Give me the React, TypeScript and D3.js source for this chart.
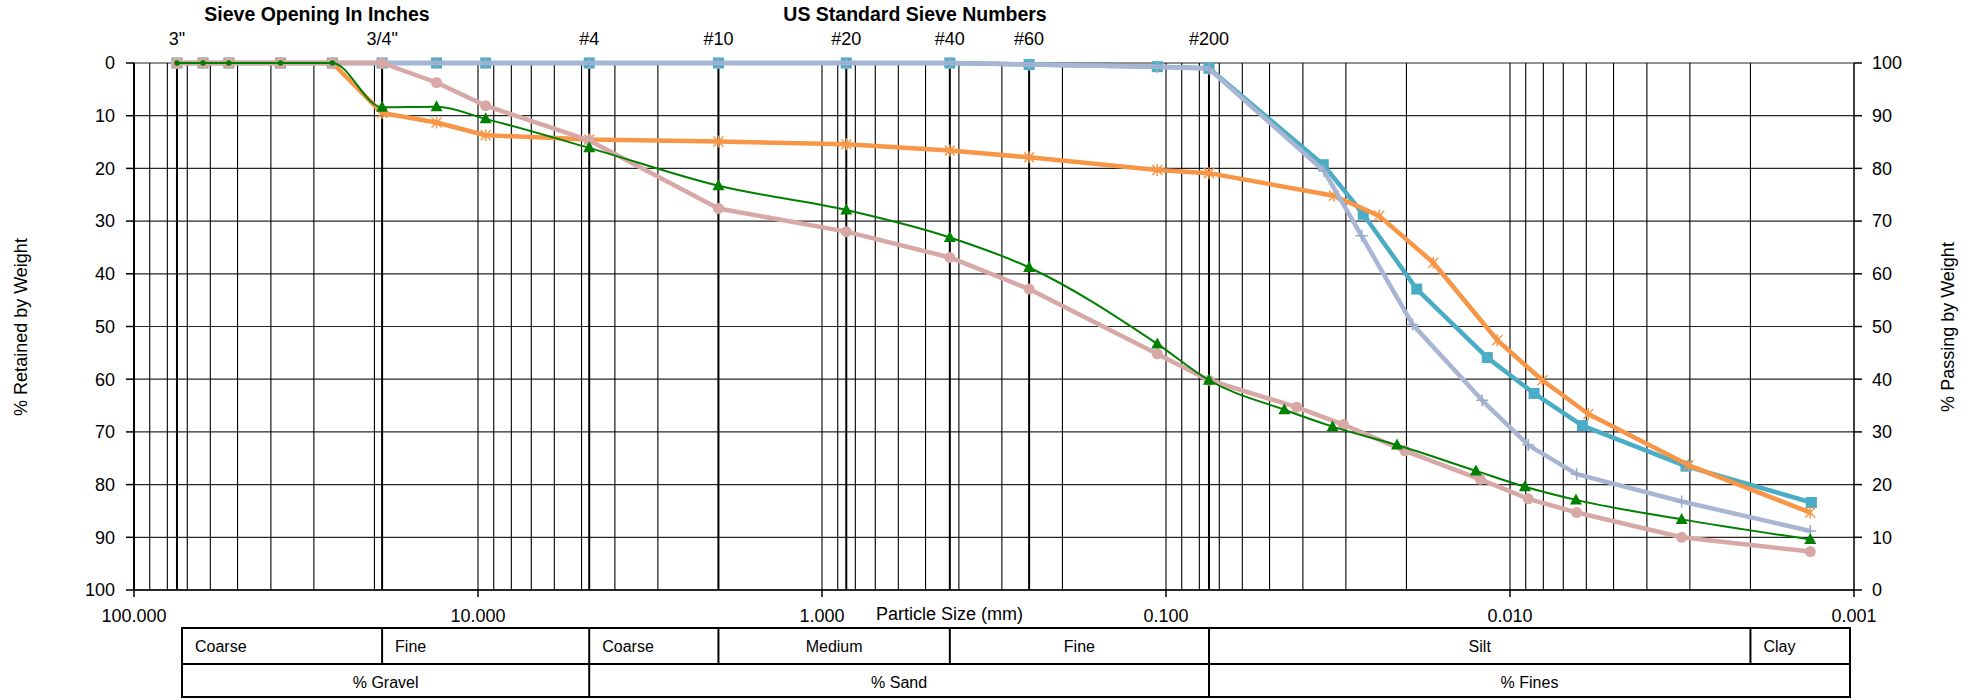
import React from "react";
import * as d3 from "d3";

const sieveSizes = [75, 63, 53, 37.5, 26.5, 19, 13.2, 9.5, 4.75, 2.0, 0.85, 0.425, 0.25, 0.106, 0.075];

const pinkSieve = [0, 0, 0, 0, 0, 0, 3.7, 8.1, 14.7, 27.6, 32.0, 36.9, 42.9, 55.2, 60.2];
const pinkHydroSizes = [0.0417, 0.0305, 0.0202, 0.0122, 0.00885, 0.0064, 0.00317, 0.00134];
const pinkHydro = [65.3, 68.6, 73.6, 79.0, 82.7, 85.3, 90.0, 92.7];

const greenSieve = [0, 0, 0, 0, 0, 8.4, 8.3, 10.6, 16.1, 23.3, 27.9, 33.1, 38.8, 53.3, 60.2];
const greenHydroSizes = [0.0453, 0.0328, 0.0213, 0.01256, 0.00905, 0.00643, 0.00317, 0.00134];
const greenHydro = [65.8, 69.0, 72.5, 77.4, 80.4, 82.9, 86.6, 90.4];

const orangeSieve = [0, 0, 0, 0, 0, 9.5, 11.3, 13.7, 14.5, 14.9, 15.4, 16.6, 17.9, 20.3, 20.9];
const orangeHydroSizes = [0.0325, 0.024, 0.0167, 0.01089, 0.00805, 0.00592, 0.00303, 0.00134];
const orangeHydro = [25.2, 29.0, 37.9, 52.6, 60.2, 66.6, 76.3, 85.3];

const tealSieve = [0, 0, 0, 0, 0, 0, 0, 0, 0, 0, 0, 0, 0.3, 0.7, 1.0];
const tealHydroSizes = [0.0349, 0.0267, 0.01867, 0.01164, 0.00851, 0.00616, 0.00308, 0.00133];
const tealHydro = [19.3, 28.7, 42.9, 55.9, 62.7, 68.8, 76.5, 83.4];

const lavSieve = [0, 0, 0, 0, 0, 0, 0, 0, 0, 0, 0, 0, 0.3, 0.7, 1.1];
const lavHydroSizes = [0.0347, 0.027, 0.0192, 0.01205, 0.00885, 0.0064, 0.00317, 0.00134];
const lavHydro = [20.5, 32.8, 49.6, 64.0, 72.5, 78.0, 83.2, 88.8];

const sieveLineSizes = [75, 19, 4.75, 2.0, 0.85, 0.425, 0.25, 0.075];
const sieveLineLabels = ['3"', '3/4"', "#4", "#10", "#20", "#40", "#60", "#200"];
const xTickValues = [100, 10, 1, 0.1, 0.01, 0.001];
const yTickValues = [0, 10, 20, 30, 40, 50, 60, 70, 80, 90, 100];

const row1Bounds = [null, 19, 4.75, 2.0, 0.425, 0.075, 0.002, null];
const row1Labels = ["Coarse", "Fine", "Coarse", "Medium", "Fine", "Silt", "Clay"];
const row1Align = ["start", "start", "start", "middle", "middle", "middle", "start"];
const row2Bounds = [null, 4.75, 0.075, null];
const row2Labels = ["% Gravel", "% Sand", "% Fines"];

const FONT = "'Liberation Sans', Arial, sans-serif";

type Pt = { d: number; v: number };

function build(sieve: number[], hs: number[], hv: number[]): Pt[] {
  const a = sieveSizes.map((d, i) => ({ d, v: sieve[i] }));
  const b = hs.map((d, i) => ({ d, v: hv[i] }));
  return a.concat(b);
}

export default function App() {
  const W = 1974;
  const H = 699;
  const x = d3.scaleLog().domain([100, 0.001]).range([134, 1854]);
  const y = d3.scaleLinear().domain([0, 100]).range([63, 590]);
  const yR = d3.scaleLinear().domain([100, 0]).range([63, 590]);
  const tableL = 182;
  const tableR = 1850;
  const tTop = 628;
  const tMid = 664;
  const tBot = 697;

  const minor: number[] = [];
  for (let k = -3; k <= 1; k++) {
    for (let m = 1; m <= 9; m++) {
      const v = m * Math.pow(10, k);
      if (v > 0.001 && v < 100) minor.push(v);
    }
  }

  const series = [
    { name: "teal", color: "#4BACC6", width: 4.5, marker: "square", pts: build(tealSieve, tealHydroSizes, tealHydro), smooth: false },
    { name: "orange", color: "#F79646", width: 4.5, marker: "star", pts: build(orangeSieve, orangeHydroSizes, orangeHydro), smooth: false },
    { name: "lav", color: "#A8B6D4", width: 4.5, marker: "plus", pts: build(lavSieve, lavHydroSizes, lavHydro), smooth: false },
    { name: "pink", color: "#D8A8A6", width: 4.5, marker: "circle", pts: build(pinkSieve, pinkHydroSizes, pinkHydro), smooth: false },
    { name: "green", color: "#008000", width: 2, marker: "triangle", pts: build(greenSieve, greenHydroSizes, greenHydro), smooth: true },
  ];

  const lineGen = (smooth: boolean) =>
    d3
      .line<Pt>()
      .x((p) => x(p.d))
      .y((p) => y(p.v))
      .curve(smooth ? d3.curveMonotoneX : d3.curveLinear);

  const marker = (s: any, p: Pt, i: number) => {
    const cx = x(p.d);
    const cy = y(p.v);
    const c = s.color;
    switch (s.marker) {
      case "square":
        return <rect key={i} x={cx - 5.5} y={cy - 5.5} width={11} height={11} fill={c} />;
      case "circle":
        return <circle key={i} cx={cx} cy={cy} r={5.5} fill={c} />;
      case "triangle":
        if (p.v === 0) return <circle key={i} cx={cx} cy={cy} r={2.8} fill={c} />;
        return <path key={i} d={`M${cx},${cy - 6.5}L${cx + 6},${cy + 4.5}L${cx - 6},${cy + 4.5}Z`} fill={c} />;
      case "star":
        return (
          <path
            key={i}
            d={`M${cx - 5},${cy - 5}L${cx + 5},${cy + 5}M${cx - 5},${cy + 5}L${cx + 5},${cy - 5}M${cx},${cy - 6}L${cx},${cy + 6}`}
            stroke={c}
            strokeWidth={1.5}
            fill="none"
          />
        );
      case "plus":
        return (
          <path
            key={i}
            d={`M${cx - 6},${cy}L${cx + 6},${cy}M${cx},${cy - 6}L${cx},${cy + 6}`}
            stroke="#9AAACC"
            strokeWidth={1.5}
            fill="none"
          />
        );
    }
    return null;
  };

  const cellText = (l: number, r: number, label: string, align: string, yy: number, key: string) => {
    const tx = align === "start" ? l + 13 : (l + r) / 2;
    return (
      <text key={key} x={tx} y={yy} textAnchor={align} fontSize={16} fontFamily={FONT} fill="#000">
        {label}
      </text>
    );
  };

  const boundX = (b: number | null, i: number) => (b === null ? (i === 0 ? tableL : tableR) : x(b));

  return (
    <svg
      width={W}
      height={H}
      style={{ position: "absolute", left: 0, top: 0, background: "#fff" }}
      fontFamily={FONT}
    >
      <rect x={0} y={0} width={W} height={H} fill="#fff" />
      {yTickValues.map((v) => (
        <line key={"h" + v} x1={134} x2={1854} y1={y(v)} y2={y(v)} stroke="#000" strokeWidth={1.2} strokeOpacity={0.85} />
      ))}
      {minor.map((v) => (
        <line key={"m" + v} x1={x(v)} x2={x(v)} y1={y(0)} y2={y(100)} stroke="#000" strokeWidth={1.1} />
      ))}
      {sieveLineSizes.map((v) => (
        <line key={"s" + v} x1={x(v)} x2={x(v)} y1={y(0)} y2={y(100)} stroke="#000" strokeWidth={2} />
      ))}
      <line x1={134} x2={134} y1={y(0)} y2={y(100)} stroke="#000" strokeWidth={2} />
      <line x1={1854} x2={1854} y1={y(0)} y2={y(100)} stroke="#000" strokeWidth={1.5} />
      <line x1={134} x2={1854} y1={y(100)} y2={y(100)} stroke="#000" strokeWidth={1.5} />
      {yTickValues.map((v) => (
        <g key={"yt" + v}>
          <line x1={126} x2={134} y1={y(v)} y2={y(v)} stroke="#000" strokeWidth={1.5} />
          <text x={115} y={y(v)} dy="0.35em" textAnchor="end" fontSize={18} fill="#000">
            {v}
          </text>
        </g>
      ))}
      {yTickValues.map((v) => (
        <g key={"yr" + v}>
          <line x1={1854} x2={1862} y1={yR(v)} y2={yR(v)} stroke="#000" strokeWidth={1.5} />
          <text x={1872} y={yR(v)} dy="0.35em" textAnchor="start" fontSize={18} fill="#000">
            {v}
          </text>
        </g>
      ))}
      {xTickValues.map((v) => (
        <g key={"xt" + v}>
          <line x1={x(v)} x2={x(v)} y1={590} y2={597} stroke="#000" strokeWidth={1.5} />
          <text x={x(v)} y={622} textAnchor="middle" fontSize={18} fill="#000">
            {d3.format(".3f")(v)}
          </text>
        </g>
      ))}
      <text x={876} y={620} fontSize={18} fill="#000">
        Particle Size (mm)
      </text>
      <text x={317} y={21} textAnchor="middle" fontSize={19.5} fontWeight="bold" fill="#000">
        Sieve Opening In Inches
      </text>
      <text x={915} y={21} textAnchor="middle" fontSize={19.5} fontWeight="bold" fill="#000">
        US Standard Sieve Numbers
      </text>
      {sieveLineSizes.map((v, i) => (
        <text key={"sl" + v} x={x(v)} y={45} textAnchor="middle" fontSize={18} fill="#000">
          {sieveLineLabels[i]}
        </text>
      ))}
      <text transform={`translate(21,327) rotate(-90)`} textAnchor="middle" dy="0.35em" fontSize={18} fill="#000">
        % Retained by Weight
      </text>
      <text transform={`translate(1948,327) rotate(-90)`} textAnchor="middle" dy="0.35em" fontSize={18} fill="#000">
        % Passing by Weight
      </text>
      {series.map((s) => (
        <g key={s.name}>
          <path d={lineGen(s.smooth)(s.pts) || ""} fill="none" stroke={s.color} strokeWidth={s.width} strokeLinejoin="round" />
          {s.pts.map((p, i) => marker(s, p, i))}
        </g>
      ))}
      <rect x={tableL} y={tTop} width={tableR - tableL} height={tBot - tTop} fill="none" stroke="#000" strokeWidth={2} />
      <line x1={tableL} x2={tableR} y1={tMid} y2={tMid} stroke="#000" strokeWidth={2} />
      {row1Bounds.slice(1, -1).map((b) => (
        <line key={"r1" + b} x1={x(b as number)} x2={x(b as number)} y1={tTop} y2={tMid} stroke="#000" strokeWidth={2} />
      ))}
      {row2Bounds.slice(1, -1).map((b) => (
        <line key={"r2" + b} x1={x(b as number)} x2={x(b as number)} y1={tMid} y2={tBot} stroke="#000" strokeWidth={2} />
      ))}
      {row1Labels.map((lab, i) =>
        cellText(boundX(row1Bounds[i], 0), boundX(row1Bounds[i + 1], 1), lab, row1Align[i], 652, "c1" + i)
      )}
      {row2Labels.map((lab, i) =>
        cellText(boundX(row2Bounds[i], 0), boundX(row2Bounds[i + 1], 1), lab, "middle", 688, "c2" + i)
      )}
    </svg>
  );
}
